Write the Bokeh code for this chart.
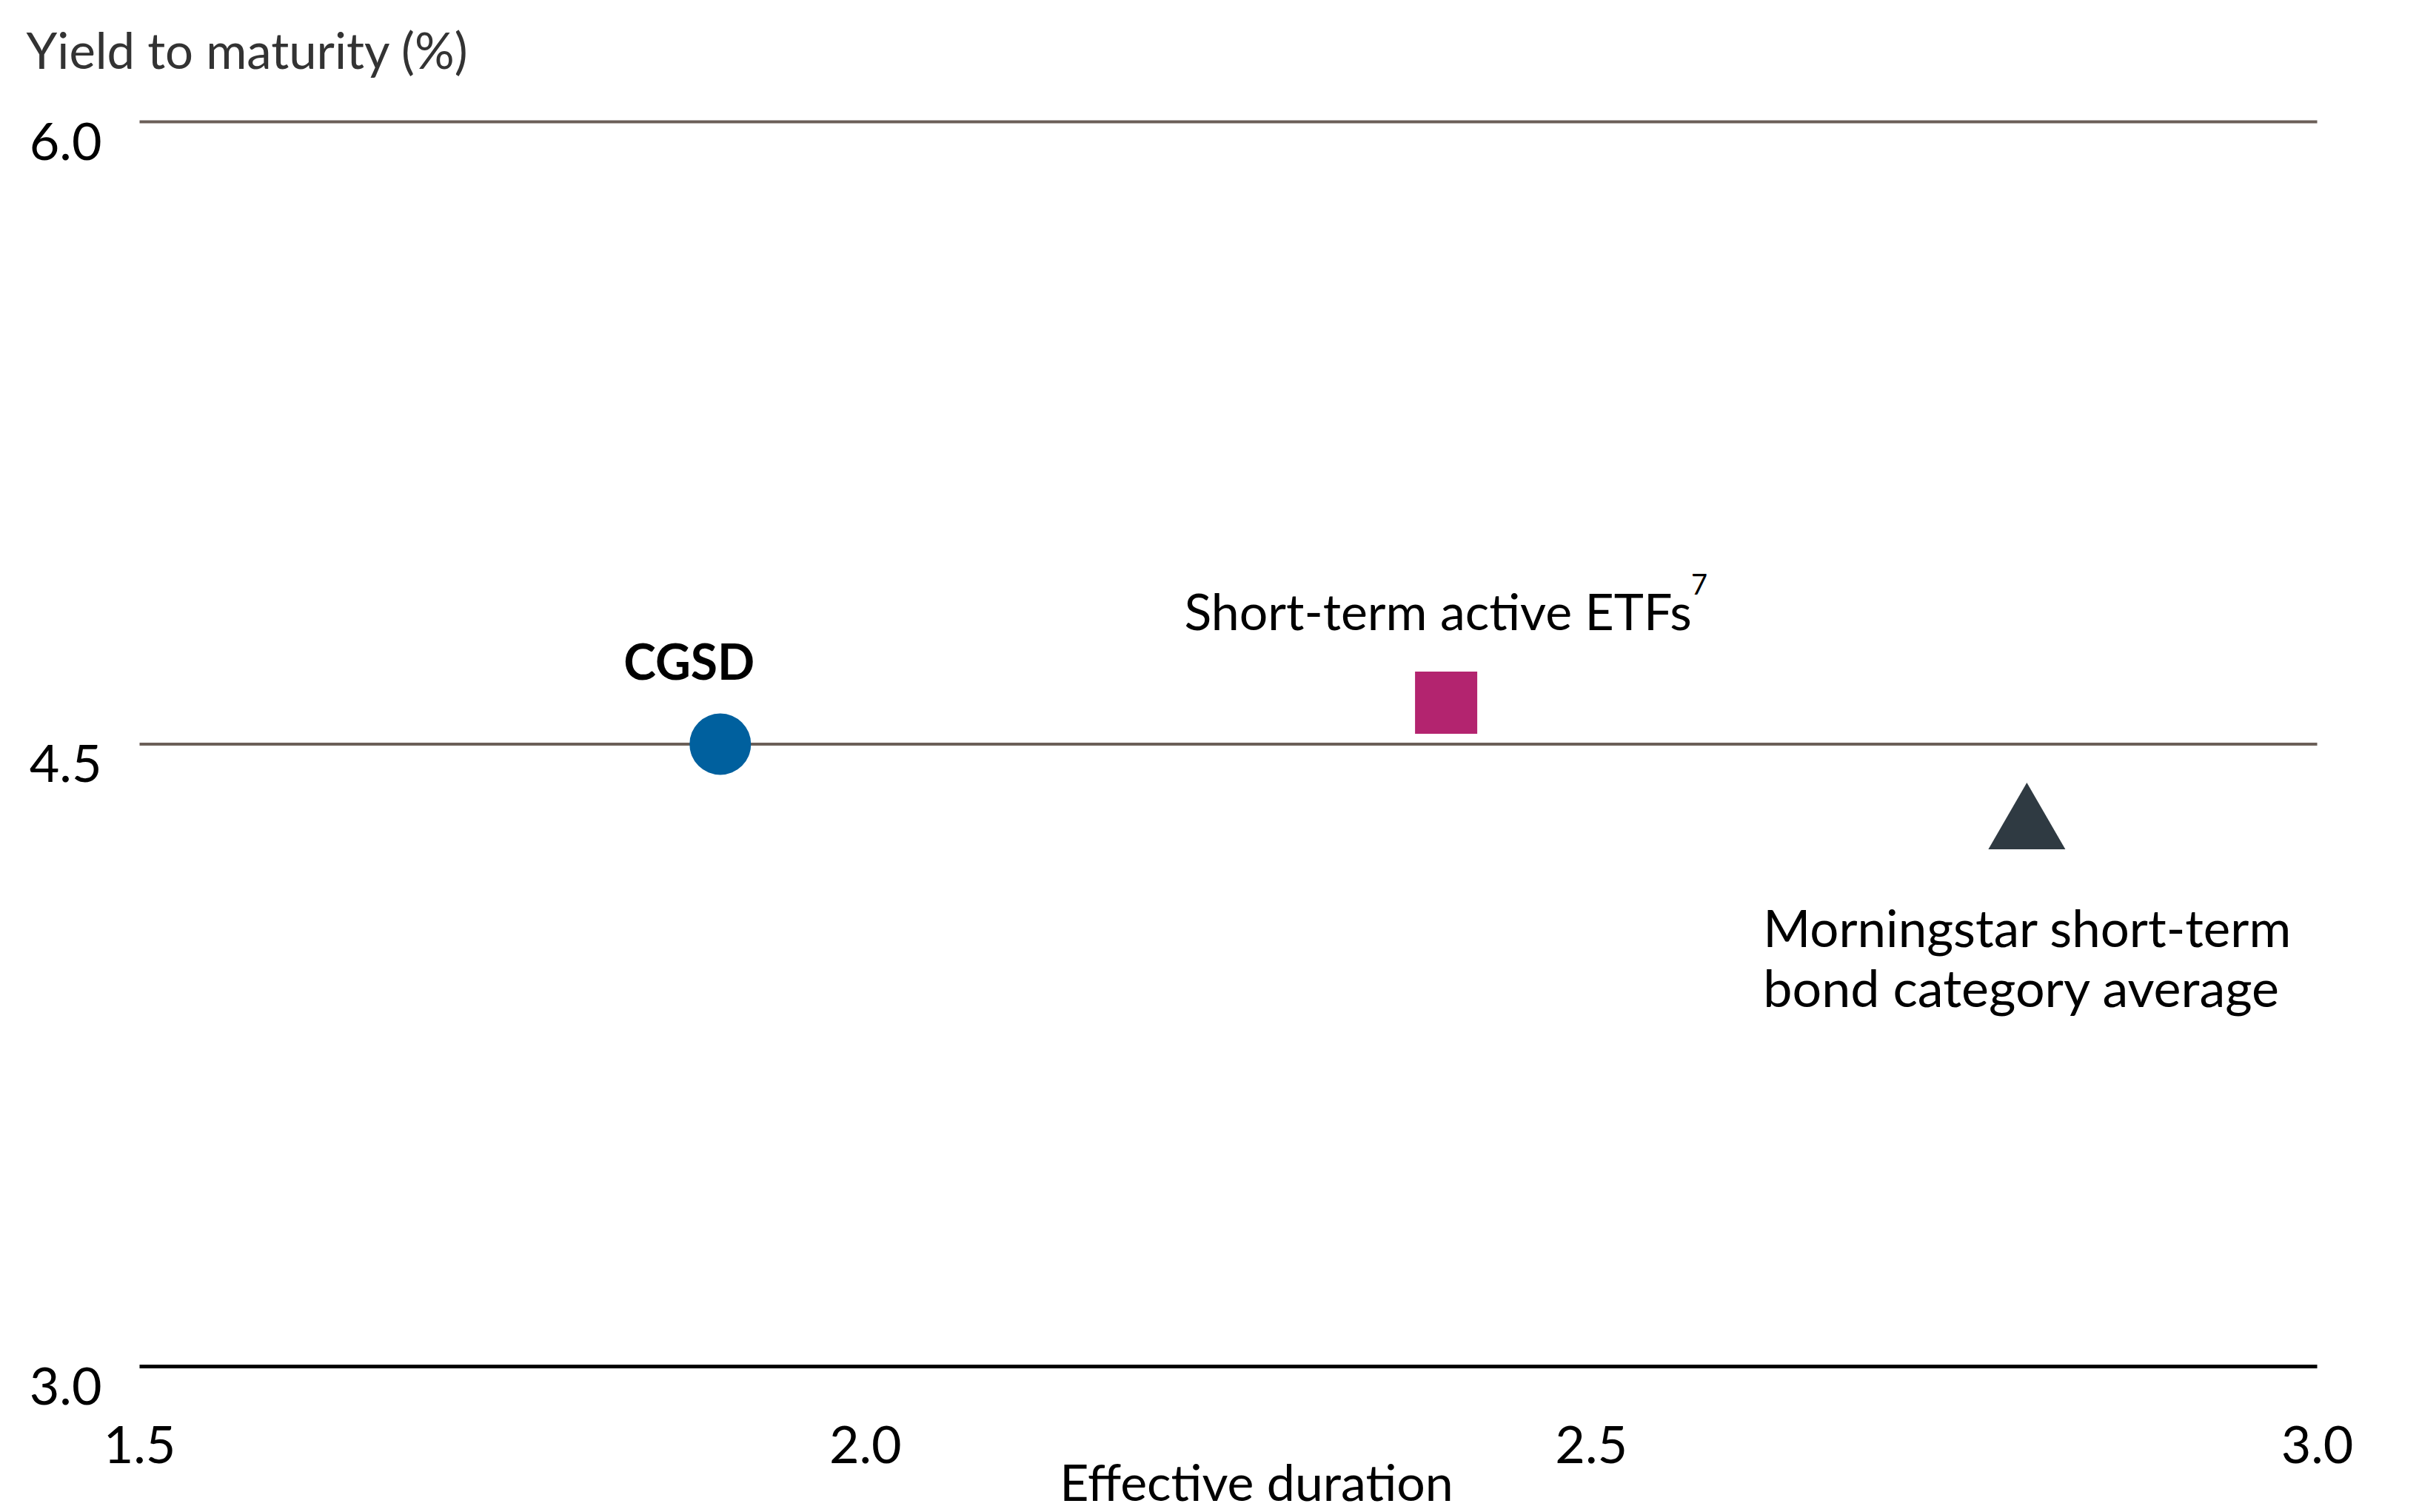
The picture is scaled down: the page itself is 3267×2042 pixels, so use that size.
from bokeh.plotting import figure
from bokeh.embed import file_html
from bokeh.resources import INLINE
from bokeh.models import ColumnDataSource, Range1d, Label, LabelSet
from bokeh.core.properties import value

# Yield to maturity vs effective duration
names = ["CGSD", "Short-term active ETFs", "Morningstar short-term", "bond category average"]
duration = [1.90, 2.40, 2.80]
ytm = [4.50, 4.60, 4.30]

x_ticks = [1.5, 2.0, 2.5, 3.0]
x_tick_labels = ["1.5", "2.0", "2.5", "3.0"]
y_ticks = [3.0, 4.5, 6.0]
y_tick_labels = ["3.0", "4.5", "6.0"]

FONT = "Lato"

# canvas size and where the 1.5-3.0 x 3.0-6.0 box sits on it (px)
W, H = 3255, 2042
FL, FR, FT, FB = 188, 3129, 164, 1845
xu = (x_ticks[-1] - x_ticks[0]) / (FR - FL)
yu = (y_ticks[-1] - y_ticks[0]) / (FB - FT)

p = figure(
    width=W, height=H, output_backend="svg", toolbar_location=None, tools="",
    x_range=Range1d(x_ticks[0] - FL * xu, x_ticks[-1] + (W - FR) * xu),
    y_range=Range1d(y_ticks[0] - (H - FB) * yu, y_ticks[-1] + FT * yu),
    min_border=0,
)
p.outline_line_color = None
p.axis.visible = False
p.grid.visible = False

# gridlines and base line
p.segment(x0=x_ticks[0], x1=x_ticks[-1], y0=y_ticks[1:], y1=y_ticks[1:],
          line_color="#6b5f58", line_width=4)
p.segment(x0=[x_ticks[0]], x1=[x_ticks[-1]], y0=[y_ticks[0]], y1=[y_ticks[0]],
          line_color="black", line_width=5)

# markers
p.scatter(x=[duration[0]], y=[ytm[0]], marker="circle", size=83, color="#00609e", line_color=None)
p.scatter(x=[duration[1]], y=[ytm[1]], marker="square", size=84, color="#b3246f", line_color=None)
p.scatter(x=[duration[2]], y=[ytm[2]], marker="triangle", size=104, color="#2f3a42", line_color=None)

common = dict(text_font=FONT, text_baseline="alphabetic", text_color="black")

p.add_layout(Label(x=duration[0], y=ytm[0], x_offset=-42, y_offset=113, text=names[0],
                   text_align="center", text_font_style="bold", text_font_size="66px", **common))
p.add_layout(Label(x=duration[1], y=ytm[1], x_offset=-11, y_offset=124, text=names[1],
                   text_align="center", text_font_size="68px", **common))
p.add_layout(Label(x=duration[1], y=ytm[1], x_offset=331, y_offset=160, text="7",
                   text_align="left", text_font_size="38px", **common))
p.add_layout(Label(x=duration[2], y=ytm[2], x_offset=-356, y_offset=-135, text=names[2],
                   text_align="left", text_font_size="69px", **common))
p.add_layout(Label(x=duration[2], y=ytm[2], x_offset=-356, y_offset=-216, text=names[3],
                   text_align="left", text_font_size="70px", **common))

set_style = dict(text_font=value(FONT), text_baseline="alphabetic", text_color="black",
                 text_font_size="70px")

# y tick labels sit just under their gridlines
ysrc = ColumnDataSource(data=dict(x=[x_ticks[0]] * len(y_ticks), y=y_ticks, text=y_tick_labels))
p.add_layout(LabelSet(x="x", y="y", text="text", source=ysrc, x_offset=-51, y_offset=-51,
                      text_align="right", **set_style))

# x tick labels
xsrc = ColumnDataSource(data=dict(x=x_ticks, y=[y_ticks[0]] * len(x_ticks), text=x_tick_labels))
p.add_layout(LabelSet(x="x", y="y", text="text", source=xsrc, y_offset=-130,
                      text_align="center", **set_style))

# axis titles
p.add_layout(Label(x=x_ticks[0], y=y_ticks[-1], x_offset=-153, y_offset=98, text="Yield to maturity (%)",
                   text_align="left", text_font=FONT, text_font_size="67px", text_color="#333333",
                   text_baseline="alphabetic"))
p.add_layout(Label(x=(x_ticks[0] + x_ticks[-1]) / 2, y=y_ticks[0], x_offset=38, y_offset=-155,
                   text="Effective duration", text_align="center", text_font_size="68px", **common))

open("out.html", "w").write(file_html(p, INLINE))
